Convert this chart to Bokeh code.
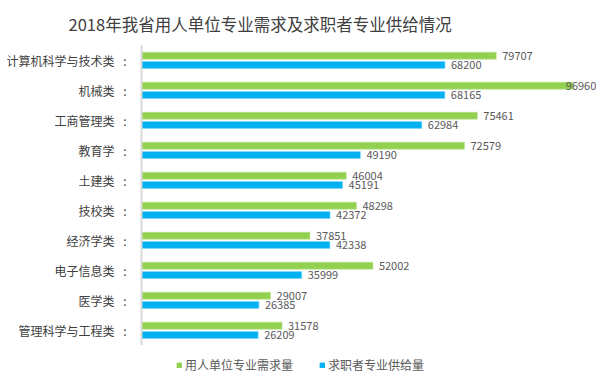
from bokeh.plotting import figure
from bokeh.layouts import column
from bokeh.models import ColumnDataSource, FactorRange, Legend, LegendItem, Range1d, Title
from bokeh.transform import dodge
from bokeh.embed import file_html
from bokeh.resources import INLINE
from bokeh.core.properties import value

categories = ["计算机科学与技术类", "机械类", "工商管理类", "教育学", "土建类",
              "技校类", "经济学类", "电子信息类", "医学类", "管理科学与工程类"]
demand = [79707, 96960, 75461, 72579, 46004, 48298, 37851, 52002, 29007, 31578]
supply = [68200, 68165, 62984, 49190, 45191, 42372, 42338, 35999, 26385, 26209]
series_names = ["用人单位专业需求量", "求职者专业供给量"]
title_text = "2018年我省用人单位专业需求及求职者专业供给情况"

GREEN = "#92D050"
BLUE = "#00B0F0"
FONT = "Noto Sans CJK SC"

labels = [c + "\u2002 :" for c in categories]
label_cap = 94000
src = ColumnDataSource(dict(
    cat=labels,
    demand=[int(v) for v in demand],
    supply=[int(v) for v in supply],
    demand_txt=[str(v) for v in demand],
    supply_txt=[str(v) for v in supply],
    demand_lx=[int(min(v, label_cap)) for v in demand],
    supply_lx=[int(min(v, label_cap)) for v in supply],
))

p = figure(frame_width=455, frame_height=300, output_backend="svg", toolbar_location=None,
           y_range=FactorRange(*reversed(labels)), x_range=Range1d(0, 102250),
           x_axis_location=None,
           min_border_left=141, min_border_right=0, min_border_top=10, min_border_bottom=0)

r1 = p.hbar(y=dodge("cat", 0.16, range=p.y_range), right="demand", left=0, height=0.23,
            source=src, fill_color=GREEN, line_color="#b5e08a", line_width=0.6)
r2 = p.hbar(y=dodge("cat", -0.15, range=p.y_range), right="supply", left=0, height=0.23,
            source=src, fill_color=BLUE, line_color="#7fd6f7", line_width=0.6)

p.text(x="demand_lx", y=dodge("cat", 0.16, range=p.y_range), text="demand_txt", source=src,
       x_offset=6, text_baseline="middle", text_align="left", text_font_size="11px",
       text_color="#595959", text_font=value(FONT))
p.text(x="supply_lx", y=dodge("cat", -0.15, range=p.y_range), text="supply_txt", source=src,
       x_offset=6, text_baseline="middle", text_align="left", text_font_size="11px",
       text_color="#595959", text_font=value(FONT))

p.xgrid.visible = False
p.ygrid.visible = False
p.outline_line_color = None

ax = p.yaxis[0]
ax.axis_line_color = "#d9d9d9"
ax.axis_line_width = 2
ax.major_tick_line_color = None
ax.minor_tick_line_color = None
ax.major_label_text_font = FONT
ax.major_label_text_font_size = "12px"
ax.major_label_text_color = "#404040"
ax.major_label_standoff = 9

title = Title(text=title_text, align="left", offset=-73, text_font=FONT,
              text_font_size="16.5px", text_color="#404040", text_font_style="normal",
              standoff=19)
p.add_layout(title, "above")

# legend strip below the chart
lg = figure(width=596, height=28, output_backend="svg", toolbar_location=None,
            x_axis_location=None, y_axis_location=None,
            x_range=Range1d(0, 1), y_range=Range1d(0, 1),
            min_border_left=0, min_border_right=0, min_border_top=0, min_border_bottom=0)
lg.xgrid.visible = False
lg.ygrid.visible = False
lg.outline_line_color = None
offscreen = ColumnDataSource(dict(y=[5], right=[5]))
g1 = lg.hbar(y="y", right="right", left=4, height=0.5, source=offscreen,
             fill_color=GREEN, line_color=GREEN)
g2 = lg.hbar(y="y", right="right", left=4, height=0.5, source=offscreen,
             fill_color=BLUE, line_color=BLUE)

legend = Legend(items=[LegendItem(label=series_names[0], renderers=[g1]),
                       LegendItem(label=series_names[1], renderers=[g2])],
                orientation="horizontal", location=(35, 0),
                label_text_font=FONT, label_text_font_size="12px",
                label_text_color="#595959", glyph_width=6, glyph_height=6,
                spacing=26, padding=0, margin=0, border_line_color=None,
                label_standoff=3, background_fill_alpha=0)
lg.add_layout(legend)

open("out.html", "w").write(file_html(column(p, lg, spacing=0), INLINE))
